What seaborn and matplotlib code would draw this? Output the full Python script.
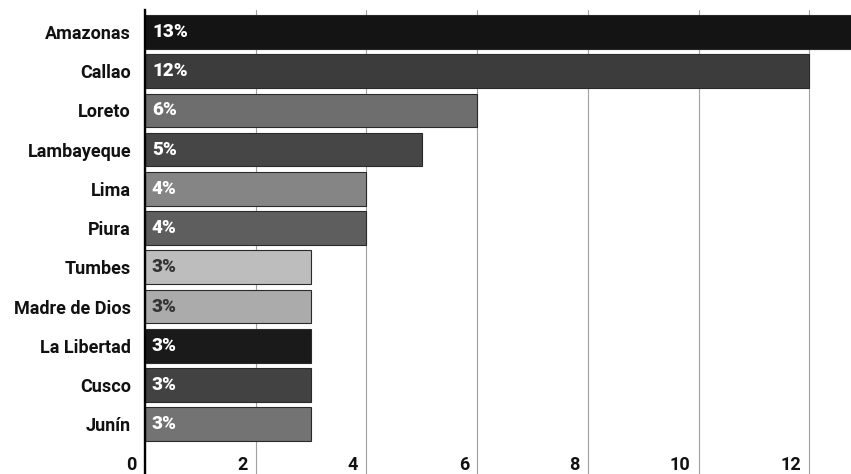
import matplotlib
matplotlib.use("Agg")
import matplotlib.pyplot as plt
import matplotlib.transforms as mtrans
import matplotlib.colors as mcolors
import numpy as np
import pandas as pd
import seaborn as sns

# data
regions = ["Amazonas", "Callao", "Loreto", "Lambayeque", "Lima", "Piura",
           "Tumbes", "Madre de Dios", "La Libertad", "Cusco", "Junín"]
values = [13, 12, 6, 5, 4, 4, 3, 3, 3, 3, 3]
bar_colors = ["#141414", "#3c3c3c", "#6e6e6e", "#464646", "#858585", "#5e5e5e",
              "#bdbdbd", "#ababab", "#1a1a1a", "#424242", "#737373"]
xticks = [0, 2, 4, 6, 8, 10, 12]

df = pd.DataFrame({"region": regions, "value": values})

sns.set_style("white")
plt.rcParams["font.family"] = ["Roboto", "DejaVu Sans"]

fig = plt.figure(figsize=(8.51, 4.74), dpi=100)
ax = fig.add_axes([145 / 851, 0, 706 / 851, 464 / 474])

sns.barplot(data=df, x="value", y="region", hue="region", palette=bar_colors,
            orient="h", width=0.86, legend=False, saturation=1,
            edgecolor="#2a2a2a", linewidth=0.8, ax=ax, zorder=2)

ax.set_xlim(0, 12.75)
ax.set_ylim(11.27, -0.56)
ax.set_xlabel("")
ax.set_ylabel("")

# grid + spines
ax.grid(axis="x", color="#a0a0a0", lw=0.8, zorder=0)
ax.grid(axis="y", visible=False)
for side in ["top", "right", "bottom"]:
    ax.spines[side].set_visible(False)
ax.spines["left"].set_color("black")
ax.spines["left"].set_linewidth(1.7)
ax.spines["left"].set_zorder(3)

# category labels
ax.tick_params(axis="y", length=0, pad=10, labelsize=13, labelcolor="#111111")
for lbl in ax.get_yticklabels():
    lbl.set_fontweight("semibold")

# x tick labels sit inside the plot, left of each gridline
ax.set_xticks(xticks, [str(t) for t in xticks], ha="right", va="center",
              fontsize=13, fontweight="bold", color="#111111")
ax.tick_params(axis="x", length=0, pad=-6.5)
shift = mtrans.ScaledTranslation(-6 / 72, 0, fig.dpi_scale_trans)
for lbl in ax.get_xticklabels():
    lbl.set_transform(lbl.get_transform() + shift)

# value labels at the start of each bar
inset = mtrans.ScaledTranslation(5 / 72, 0, fig.dpi_scale_trans)
for i, (v, c) in enumerate(zip(values, bar_colors)):
    r, g, b = mcolors.to_rgb(c)
    lum = 0.299 * r + 0.587 * g + 0.114 * b
    tc = "#333333" if lum > 0.6 else "white"
    ax.text(0, i, f"{v}%", ha="left", va="center", fontsize=13.5,
            fontweight="heavy", color=tc, zorder=4,
            transform=ax.transData + inset)

fig.savefig("out.png", dpi=100)
